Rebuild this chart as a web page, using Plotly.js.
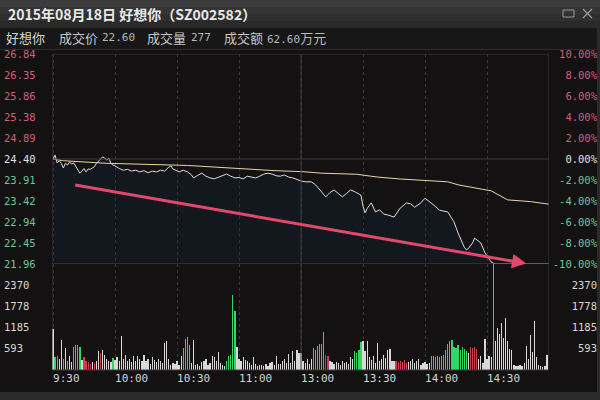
<!DOCTYPE html>
<html><head><meta charset="utf-8">
<script src="https://cdn.plot.ly/plotly-3.0.1.min.js"></script>
<style>html,body{margin:0;padding:0;background:#141113;}#chart{width:600px;height:400px;}</style>
</head><body><div id="chart"></div>
<script>
// ---------- data ----------
const stockTitle = '2015年08月18日 好想你（SZ002582）';
const stockName = '好想你';
const lastPrice = '22.60';
const lastVolume = '277';
const lastAmount = '62.60';
const prevClose = 24.40;
const priceTicks = [26.84, 26.35, 25.86, 25.38, 24.89, 24.40, 23.91, 23.42, 22.94, 22.45, 21.96];
const pctTicks = [10, 8, 6, 4, 2, 0, -2, -4, -6, -8, -10];
const volTicks = [593, 1185, 1778, 2370];
const timeTickMinutes = [0, 30, 60, 90, 120, 150, 180, 210];
const timeTickLabels = ['9:30', '10:00', '10:30', '11:00', '13:00', '13:30', '14:00', '14:30'];

const priceMinutes = [0,1,2,3,4,5,6,7,8,9,10,11,12,13,14,15,16,17,18,19,20,21,22,23,24,25,26,27,28,29,30,32,34,36,38,40,42,44,46,48,50,52,54,56,57,58,60,61,63,65,67,68,70,72,74,76,78,80,82,84,86,88,90,92,94,96,98,100,102,104,106,108,110,112,114,116,118,119,120,122,124,125,127,129,131,132,134,136,138,140,142,144,146,148,149,150,151,152,154,156,158,160,162,165,168,171,173,175,178,180,183,185,187,189,191,194,196,199,200,201,203,204,205,207,209,211,212,213,214,240];
const prices = [24.40,24.49,24.31,24.36,24.30,24.19,24.30,24.26,24.33,24.28,24.31,24.22,24.14,24.07,24.12,24.18,24.10,24.17,24.16,24.19,24.22,24.30,24.35,24.38,24.45,24.42,24.38,24.42,24.30,24.26,24.24,24.18,24.14,24.16,24.12,24.14,24.10,24.13,24.08,24.12,24.10,24.14,24.12,24.21,24.24,24.17,24.12,24.10,24.14,24.10,24.03,23.96,24.02,24.07,24.00,23.96,23.94,23.98,24.02,24.05,24.00,23.96,23.97,23.94,24.00,23.98,23.96,24.00,24.05,24.07,24.05,24.01,24.00,24.03,23.98,23.96,23.92,23.91,23.89,23.87,23.86,23.87,23.80,23.68,23.58,23.52,23.62,23.68,23.60,23.52,23.60,23.68,23.64,23.58,23.56,23.30,23.15,23.25,23.38,23.17,23.22,23.12,23.10,23.05,23.26,23.38,23.36,23.28,23.38,23.49,23.38,23.30,23.21,23.19,23.17,22.94,22.68,22.35,22.29,22.32,22.45,22.56,22.52,22.45,22.22,22.08,22.01,21.98,21.96,21.96];

const avgMinutes = [0,5,26,65,107,121,130,147,157,168,191,196,212,220,231,240];
const avgPrices = [24.40,24.36,24.30,24.25,24.13,24.105,24.07,24.045,23.98,23.935,23.87,23.80,23.66,23.45,23.41,23.35];

const volumes = [
  1150,350,380,300,850,320,610,250,380,220,
  650,690,690,640,280,370,260,210,160,230,
  190,240,520,480,560,430,300,260,210,330,
  280,350,260,940,300,420,250,320,210,400,
  260,380,310,240,420,250,300,180,350,280,
  220,300,250,200,760,820,300,150,200,180,
  250,150,380,620,880,920,700,200,830,150,
  180,120,220,260,300,150,200,380,350,250,
  500,200,150,120,250,380,420,2090,1650,650,
  300,250,350,280,260,200,150,370,180,120,
  130,150,110,180,120,200,220,150,380,180,
  160,250,300,200,460,200,530,250,570,480,
  480,250,200,300,180,300,620,550,680,720,
  740,1070,420,380,250,220,180,220,200,150,
  250,200,230,180,370,300,520,480,560,780,
  800,520,820,350,280,400,200,760,250,300,
  430,330,560,580,250,240,260,230,250,220,
  280,200,230,260,320,200,250,300,150,200,
  220,160,200,380,400,350,380,370,400,420,
  560,740,820,850,650,620,700,560,640,600,
  520,480,640,620,650,600,300,400,200,870,
  300,400,350,2963,800,1180,1000,1320,900,1440,
  800,600,560,150,120,110,140,100,200,660,
  300,990,500,1360,350,150,100,80,120,420
];
// r = up tick, g = down tick, w = unchanged
const volumeDirs = (
  'wggwwgwgww' + 'ggggwrrrrw' + 'rwwrwwwwwg' + 'wwwwwwwwww' +
  'wwwwwwwwww' + 'wwwwwwwwww' + 'wwwggggwww' + 'wwwwwwwwww' +
  'wwwwgggggw' + 'wwwwwwwwww' + 'wwwwwwwwww' + 'wwwwwwwwww' +
  'wwwwwwgggg' + 'ggrrwwwwww' + 'wwwwwwgggg' + 'wwwwwwwwww' +
  'wwwwwwrrrr' + 'rrwwwwwwww' + 'wwwggggggg' + 'gggggggggg' +
  'gwrrrrwwww' + 'wwwgwwwwww' + 'wwwwwwwwww' + 'wwwwwwwwww').split('');

const arrowFrom = [10, 23.80];
const arrowTo = [229, 21.97];

// ---------- helpers ----------
const px = x => (x - 3) / 594;
const py = y => (370 - y) / 316;
const volMinutes = volumes.map((v, i) => i);
const dirColor = {r: '#cc3e4c', g: '#35d466', w: '#d8d8d8'};
const volColors = volumeDirs.map(d => dirColor[d]);
const RED = '#d2606e', GREEN = '#72c690', WHITE = '#e2e2e2';
const col = (v, ref) => v > ref + 1e-9 ? RED : (v < ref - 1e-9 ? GREEN : WHITE);
const priceTickText = priceTicks.map(v => `<span style="color:${col(v, prevClose)}">${v.toFixed(2)}</span>`);
const pctTickText = pctTicks.map(v => `<span style="color:${col(v, 0)}">${v.toFixed(2)}%</span>`);
const volTickText = volTicks.map(v => String(v));
const maxMinute = 240;

const monoFont = {family: 'DejaVu Sans Mono', size: 10.5, color: '#d8d8d8'};
const cjk = 'Noto Sans CJK SC';

const traces = [
  {type: 'bar', x: volMinutes, y: volumes, xaxis: 'x', yaxis: 'y2', width: 0.62,
   marker: {color: volColors, line: {width: 0}}, hoverinfo: 'skip', showlegend: false},
  {type: 'scatter', mode: 'lines', x: priceMinutes, y: prices, xaxis: 'x', yaxis: 'y',
   fill: 'tozeroy', fillcolor: 'rgba(18,42,60,0.28)',
   line: {color: '#dcdcdc', width: 1}, hoverinfo: 'skip', showlegend: false},
  {type: 'scatter', mode: 'lines', x: avgMinutes, y: avgPrices, xaxis: 'x', yaxis: 'y',
   line: {color: '#e6d8a4', width: 1}, hoverinfo: 'skip', showlegend: false},
  {type: 'scatter', mode: 'none', x: [null], y: [null], xaxis: 'x', yaxis: 'y3', hoverinfo: 'skip', showlegend: false},
  {type: 'scatter', mode: 'none', x: [null], y: [null], xaxis: 'x', yaxis: 'y4', hoverinfo: 'skip', showlegend: false}
];

const gridCol = '#3a3537';
const shapes = [
  // title bar gradient
  {type: 'rect', xref: 'paper', yref: 'paper', x0: px(0), x1: px(600), y0: py(0), y1: py(7), fillcolor: '#3c3c3c', line: {width: 0}, layer: 'below'},
  {type: 'rect', xref: 'paper', yref: 'paper', x0: px(0), x1: px(600), y0: py(7), y1: py(14), fillcolor: '#353535', line: {width: 0}, layer: 'below'},
  {type: 'rect', xref: 'paper', yref: 'paper', x0: px(0), x1: px(600), y0: py(14), y1: py(21), fillcolor: '#2f2f2f', line: {width: 0}, layer: 'below'},
  {type: 'rect', xref: 'paper', yref: 'paper', x0: px(0), x1: px(600), y0: py(21), y1: py(28), fillcolor: '#2a2a2a', line: {width: 0}, layer: 'below'},
  // info row
  {type: 'rect', xref: 'paper', yref: 'paper', x0: px(0), x1: px(600), y0: py(28), y1: py(49), fillcolor: '#171717', line: {width: 0}, layer: 'below'},
  {type: 'line', xref: 'paper', yref: 'paper', x0: px(0), x1: px(600), y0: py(49.5), y1: py(49.5), line: {color: '#2c2c2c', width: 1}, layer: 'below'},
  // bottom window edge
  {type: 'rect', xref: 'paper', yref: 'paper', x0: px(0), x1: px(600), y0: py(392), y1: py(400), fillcolor: '#2a2a2a', line: {width: 0}, layer: 'below'},
  {type: 'rect', xref: 'paper', yref: 'paper', x0: px(597), x1: px(600), y0: py(28), y1: py(400), fillcolor: '#2a2a2a', line: {width: 0}, layer: 'below'},
  // window buttons
  {type: 'rect', xref: 'paper', yref: 'paper', x0: px(563), x1: px(574), y0: py(10), y1: py(17), line: {color: '#9a9a9a', width: 1}},
  {type: 'line', xref: 'paper', yref: 'paper', x0: px(583), x1: px(592), y0: py(9), y1: py(18), line: {color: '#9a9a9a', width: 1.3}},
  {type: 'line', xref: 'paper', yref: 'paper', x0: px(583), x1: px(592), y0: py(18), y1: py(9), line: {color: '#9a9a9a', width: 1.3}},
  // panel borders
  {type: 'line', xref: 'x', yref: 'paper', x0: -0.5, x1: -0.5, y0: 0, y1: 1, line: {color: '#3e3a3b', width: 1}},
  {type: 'line', xref: 'x', yref: 'paper', x0: maxMinute, x1: maxMinute, y0: 0, y1: 1, line: {color: '#3e3a3b', width: 1}},
  {type: 'line', xref: 'x', yref: 'paper', x0: 120, x1: 120, y0: 0, y1: 1, line: {color: '#403b3d', width: 1}},
  {type: 'line', xref: 'paper', yref: 'y', x0: px(52), x1: px(549), y0: priceTicks[0], y1: priceTicks[0], line: {color: '#3e3a3b', width: 1}},
  {type: 'line', xref: 'paper', yref: 'y', x0: px(52), x1: px(549), y0: prevClose, y1: prevClose, line: {color: '#3e3a3b', width: 1}},
  {type: 'line', xref: 'paper', yref: 'y', x0: px(52), x1: px(549), y0: priceTicks[10], y1: priceTicks[10], line: {color: '#4a4546', width: 1}},
  {type: 'line', xref: 'paper', yref: 'paper', x0: px(52), x1: px(549), y0: 0, y1: 0, line: {color: '#3e3a3b', width: 1}}
];

const ann = (text, x, y, opts = {}) => Object.assign({
  text, xref: 'paper', yref: 'paper', x: px(x), y: py(y), xanchor: 'left', yanchor: 'middle',
  showarrow: false, font: {family: cjk, size: 13, color: '#c8c8c8'}
}, opts);
const numFont = {family: 'DejaVu Sans Mono', size: 11, color: '#b8b8b8'};

const annotations = [
  ann('<b>' + stockTitle + '</b>', 6, 14, {font: {family: cjk, size: 14, color: '#e8e8e8'}}),
  ann(stockName, 4, 38, {font: {family: cjk, size: 13, color: '#d6d6d6'}}),
  ann('成交价', 57, 38),
  ann(lastPrice, 100, 38, {font: numFont}),
  ann('成交量', 145, 38),
  ann(lastVolume, 189, 38, {font: numFont}),
  ann('成交额', 222, 38),
  ann(lastAmount + '<span style="font-family:Noto Sans CJK SC;font-size:13px">万元</span>', 265, 38, {font: numFont}),
  {x: arrowTo[0], y: arrowTo[1], ax: arrowFrom[0], ay: arrowFrom[1], xref: 'x', yref: 'y', axref: 'x', ayref: 'y',
   showarrow: true, text: '', arrowhead: 2, arrowsize: 0.95, arrowwidth: 3, arrowcolor: '#e0486c', standoff: 0}
];

const layout = {
  width: 600, height: 400, autosize: false,
  margin: {l: 3, r: 3, t: 54, b: 30, pad: 0},
  paper_bgcolor: '#141113', plot_bgcolor: 'rgba(0,0,0,0)',
  showlegend: false, hovermode: false, bargap: 0,
  xaxis: {domain: [px(52), px(549)], range: [-0.5, maxMinute], anchor: 'y2',
    tickmode: 'array', tickvals: timeTickMinutes, ticktext: timeTickLabels,
    ticklabelposition: 'outside right', ticks: '', showline: false, zeroline: false,
    showgrid: true, gridcolor: gridCol, griddash: 'dot', gridwidth: 1,
    tickfont: {family: 'DejaVu Sans Mono', size: 11, color: '#d4d4d4'}},
  yaxis: {domain: [py(264), 1], range: [priceTicks[10], priceTicks[0]], anchor: 'free', position: 0, side: 'right',
    tickmode: 'array', tickvals: priceTicks, ticktext: priceTickText, ticks: '',
    showgrid: false, zeroline: false, showline: false, tickfont: monoFont},
  yaxis3: {overlaying: 'y', range: [-10, 10], anchor: 'free', position: 1, side: 'left',
    tickmode: 'array', tickvals: pctTicks, ticktext: pctTickText, ticks: '',
    showgrid: false, zeroline: false, showline: false, tickfont: monoFont},
  yaxis2: {domain: [0, py(264)], range: [0, 2963], anchor: 'free', position: 0, side: 'right',
    tickmode: 'array', tickvals: volTicks, ticktext: volTickText, ticks: '',
    showgrid: false, zeroline: false, showline: false, tickfont: monoFont},
  yaxis4: {overlaying: 'y2', range: [0, 2963], anchor: 'free', position: 1, side: 'left',
    tickmode: 'array', tickvals: volTicks, ticktext: volTickText, ticks: '',
    showgrid: false, zeroline: false, showline: false, tickfont: monoFont},
  shapes, annotations
};

Plotly.newPlot('chart', traces, layout, {staticPlot: true, displayModeBar: false});
</script></body></html>
